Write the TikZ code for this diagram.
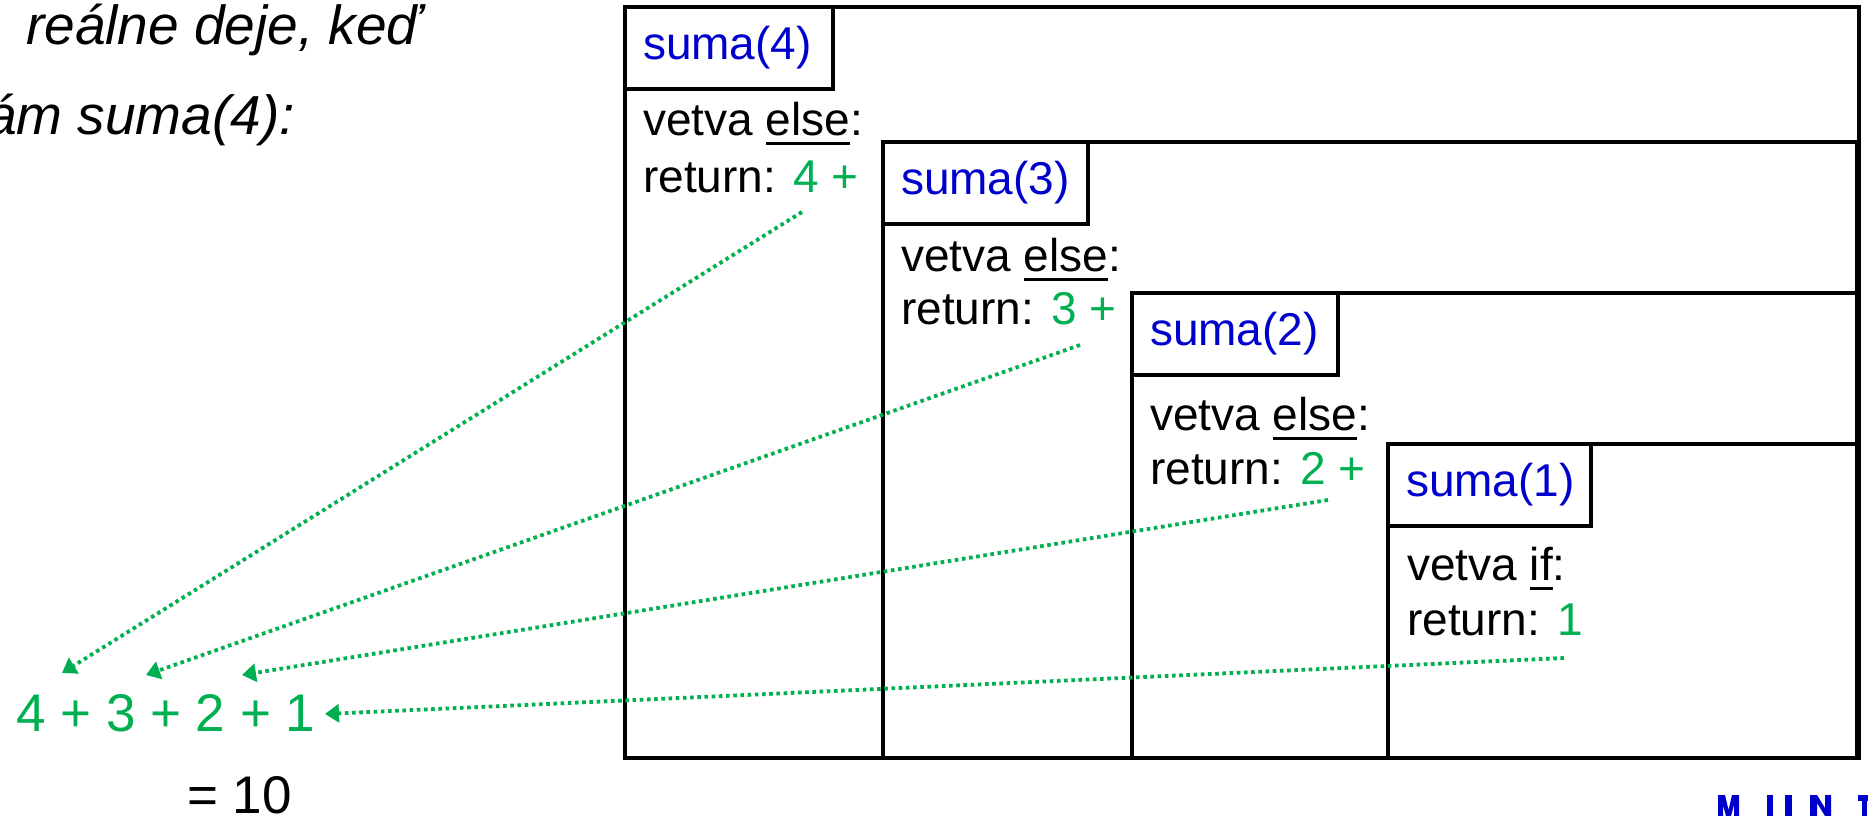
\documentclass[tikz,border=0pt]{standalone}
\usepackage{fontspec}
\setmainfont{Liberation Sans}
\usetikzlibrary{arrows.meta}
\definecolor{retgreen}{RGB}{0,176,80}
\definecolor{fnblue}{RGB}{0,0,204}
% underline set a little lower and thicker than \underline
\newcommand\ulword[1]{\setbox0\hbox{#1}\rlap{\rule[-10pt]{\wd0}{3.5pt}}\box0}

\begin{document}
\begin{tikzpicture}[x=1pt,y=-1pt,
  frame/.style={draw, line width=4.5pt},
  callbox/.style={draw, line width=4.5pt, anchor=north west, outer sep=0pt,
    inner xsep=18pt, inner ysep=0pt, minimum height=82pt, align=left,
    text=fnblue, font=\fontsize{46}{55}\selectfont},
  body/.style={anchor=base west, inner sep=0pt, font=\fontsize{46}{55}\selectfont},
  big/.style={anchor=base west, inner sep=0pt, font=\fontsize{53}{60}\selectfont},
  intro/.style={inner sep=0pt, font=\itshape\fontsize{55}{66}\selectfont},
  conn/.style={retgreen, line width=3.8pt, dash pattern=on 3.6pt off 3.6pt,
    -{Triangle[length=14pt,width=18pt]}},
  logo/.style={fill=fnblue, draw=none}]
\useasboundingbox (0,0) rectangle (1868,816);

% intro text
\node[intro, anchor=base west] (q1) at (26,45) {reálne deje, keď};
\node[intro, anchor=base east] (q2) at (295,134) {ám suma(4):};

% call frames
\draw[frame] (625,7) rectangle (1859,758);
\draw[frame] (883,142) rectangle (1857,758);
\draw[frame] (1132,293) rectangle (1859,758);
\draw[frame] (1388,444) rectangle (1859,758);

% suma(4)
\node[callbox, text width=172pt] (s4) at (625,7) {suma(4)};
\node[body] (e4) at (643,135) {vetva \ulword{else}:};
\node[body] (r4) at (643,192) {return: \textcolor{retgreen}{4 +}};

% suma(3)
\node[callbox, text width=169pt] (s3) at (883,142) {suma(3)};
\node[body] (e3) at (901,271) {vetva \ulword{else}:};
\node[body] (r3) at (901,324) {return: \textcolor{retgreen}{3 +}};

% suma(2)
\node[callbox, text width=170pt] (s2) at (1132,293) {suma(2)};
\node[body] (e2) at (1150,430) {vetva \ulword{else}:};
\node[body] (r2) at (1150,484) {return: \textcolor{retgreen}{2 +}};

% suma(1)
\node[callbox, text width=167pt] (s1) at (1388,444) {suma(1)};
\node[body] (e1) at (1407,580) {vetva \ulword{if}:};
\node[body] (r1) at (1407,635) {return: \textcolor{retgreen}{1}};

% collected result
\node[big, text=retgreen] (sum) at (16,731) {4 + 3 + 2 + 1};
\node[big] (tot) at (187,813) {= 10};

% returned values flowing back
\coordinate (a4s) at (802,212);  \coordinate (a4e) at (62,673);
\coordinate (a3s) at (1080,345); \coordinate (a3e) at (146,675);
\coordinate (a2s) at (1328,500); \coordinate (a2e) at (242,675);
\coordinate (a1s) at (1564,658); \coordinate (a1e) at (325,714);
\draw[conn] (a4s) -- (a4e);
\draw[conn] (a3s) -- (a3e);
\draw[conn] (a2s) -- (a2e);
\draw[conn] (a1s) -- (a1e);

% logo lettering along the lower edge
\fill[logo] (1718,795) -- (1725,795) -- (1728.5,810) -- (1732,795) -- (1739,795)
  -- (1739,816) -- (1734,816) -- (1734,805) -- (1731,816) -- (1726,816)
  -- (1723,805) -- (1723,816) -- (1718,816) -- cycle;
\fill[logo] (1767,795) rectangle (1773,816);
\fill[logo] (1785,795) rectangle (1792,816);
\fill[logo] (1810,795) -- (1817,795) -- (1825,808) -- (1825,795) -- (1831,795)
  -- (1831,816) -- (1825,816) -- (1817,803) -- (1817,816) -- (1810,816) -- cycle;
\fill[logo] (1858,795) rectangle (1868,801);
\fill[logo] (1862,801) rectangle (1867,816);
\end{tikzpicture}
\end{document}
